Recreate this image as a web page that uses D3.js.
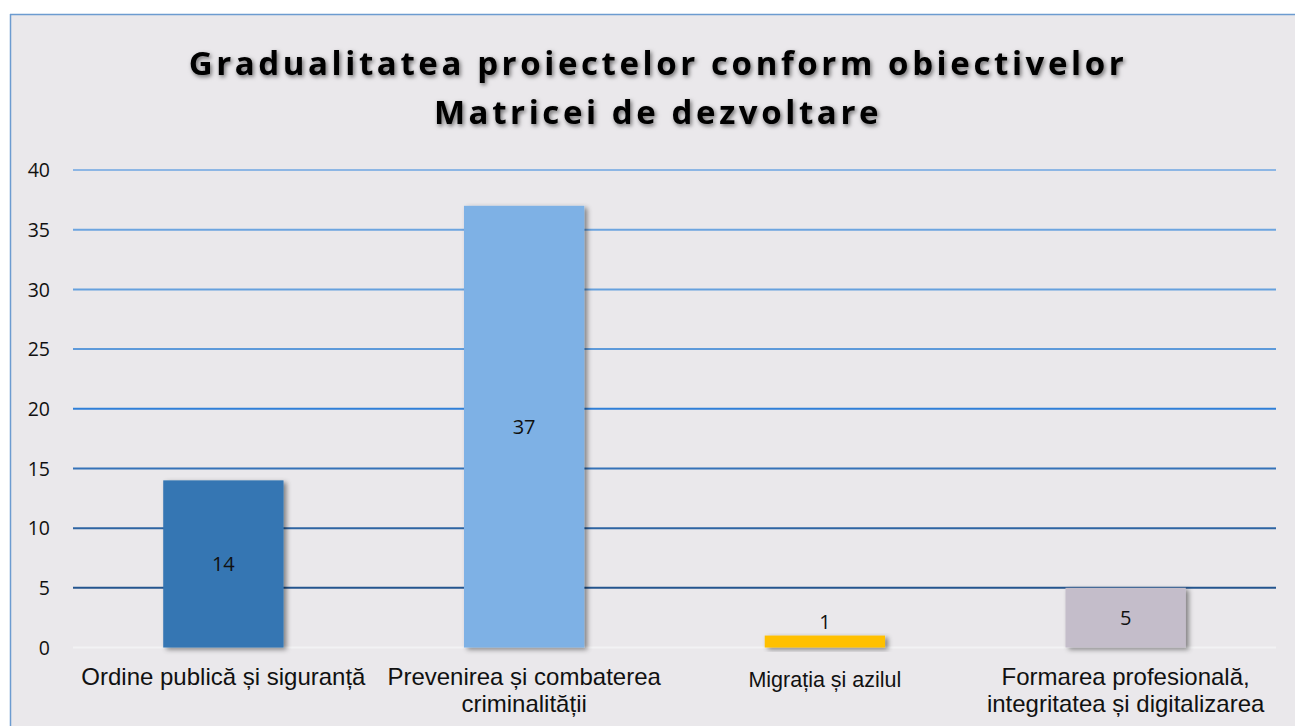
<!DOCTYPE html>
<html><head><meta charset="utf-8">
<script src="https://cdn.jsdelivr.net/npm/d3@7"></script>
<style>body{margin:0;background:#fff;}svg{display:block}</style>
</head><body>
<svg id="c" width="1295" height="726"></svg>
<script>
const categories = [["Ordine publică și siguranță"],["Prevenirea și combaterea","criminalității"],["Migrația și azilul"],["Formarea profesională,","integritatea și digitalizarea"]];
const values = [14, 37, 1, 5];
const barColors = ["#3476B3", "#7EB1E5", "#FFC000", "#C4BDCA"];
const yTicks = [0, 5, 10, 15, 20, 25, 30, 35, 40];
const gridColors = ["#F2F2F4", "#24558E", "#2E64A2", "#3572B8", "#2F7FD8", "#5E9ADA", "#65A0DD", "#6CA4DF", "#8DB6E4"];
const titleLines = ["Gradualitatea proiectelor conform obiectivelor", "Matricei de dezvoltare"];

const svg = d3.select("#c");
const defs = svg.append("defs");
const f = defs.append("filter").attr("id","sh").attr("x","-20%").attr("y","-20%").attr("width","150%").attr("height","150%");
f.append("feDropShadow").attr("dx",3).attr("dy",2).attr("stdDeviation",2.5).attr("flood-color","#000").attr("flood-opacity",0.45);
const ft = defs.append("filter").attr("id","tsh").attr("x","-10%").attr("y","-30%").attr("width","120%").attr("height","160%");
ft.append("feDropShadow").attr("dx",1.5).attr("dy",2).attr("stdDeviation",2).attr("flood-color","#000").attr("flood-opacity",0.55);

svg.append("rect").attr("x",10).attr("y",14).attr("width",1285).attr("height",712).attr("fill","#EAE8EB");
svg.append("line").attr("x1",10).attr("x2",1295).attr("y1",14.5).attr("y2",14.5).attr("stroke","#6C9BD0").attr("stroke-width",1.5);
svg.append("line").attr("x1",10.5).attr("x2",10.5).attr("y1",14).attr("y2",726).attr("stroke","#6C9BD0").attr("stroke-width",1.5);

const x = d3.scaleBand().domain(d3.range(categories.length)).range([73, 1276]).paddingInner(0.6).paddingOuter(0.3);
const y = d3.scaleLinear().domain([0, 40]).range([647.5, 170]);

// gridlines
svg.append("g").selectAll("line").data(yTicks).join("line")
  .attr("x1",73).attr("x2",1276)
  .attr("y1",d=>y(d)).attr("y2",d=>y(d))
  .attr("stroke",(d,i)=>gridColors[i]).attr("stroke-width",2);

// y axis labels
const yAxis = d3.axisLeft(y).tickValues(yTicks).tickSize(0).tickPadding(0);
const ga = svg.append("g").attr("transform","translate(50,0)").call(yAxis);
ga.select(".domain").remove();
ga.selectAll("text").attr("font-family","'Open Sans', sans-serif").attr("font-size",19.5).attr("fill","#111").attr("dy","0.35em");

// bars
svg.append("g").selectAll("rect").data(values).join("rect")
  .attr("x",(d,i)=>x(i)).attr("width",x.bandwidth())
  .attr("y",d=>y(d)).attr("height",d=>y(0)-y(d))
  .attr("fill",(d,i)=>barColors[i]).attr("filter","url(#sh)");

// data labels
svg.append("g").selectAll("text").data(values).join("text")
  .attr("x",(d,i)=>x(i)+x.bandwidth()/2)
  .attr("y",d=> d >= 5 ? (y(d)+y(0))/2 : y(d)-7)
  .attr("dy", d=> d>=5 ? "0.35em" : "0")
  .attr("text-anchor","middle")
  .attr("font-family","'Open Sans', sans-serif").attr("font-size",20).attr("fill","#111")
  .text(d=>d);

// category labels
const cg = svg.append("g").selectAll("text").data(categories).join("text")
  .attr("x",(d,i)=>x(i)+x.bandwidth()/2)
  .attr("y",(d,i)=> i===2 ? 687 : 685)
  .attr("text-anchor","middle")
  .attr("font-family","'Liberation Sans', Arial, sans-serif")
  .attr("font-size",(d,i)=> i===2 ? 21.5 : 24).attr("fill","#111");
cg.selectAll("tspan").data(d=>d).join("tspan")
  .attr("x",function(){return this.parentNode.getAttribute("x");})
  .attr("dy",(d,j)=> j===0 ? 0 : 27)
  .text(d=>d);

// title
svg.append("g").selectAll("text").data(titleLines).join("text")
  .attr("x",658).attr("y",(d,i)=>75+i*49)
  .attr("text-anchor","middle")
  .attr("font-family","'Open Sans', sans-serif").attr("font-weight","bold")
  .attr("font-size",33).attr("letter-spacing",3.6).attr("fill","#000")
  .attr("filter","url(#tsh)")
  .text(d=>d);
</script>
</body></html>
